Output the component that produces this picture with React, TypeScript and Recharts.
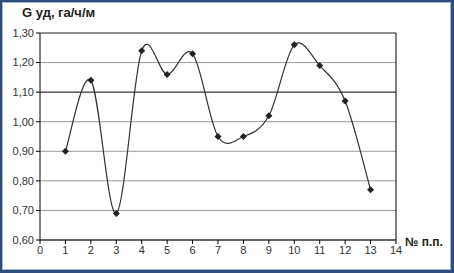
import { LineChart, Line, XAxis, YAxis, CartesianGrid, ReferenceLine } from 'recharts';

const positions = [1, 2, 3, 4, 5, 6, 7, 8, 9, 10, 11, 12, 13];
const gValues = [0.9, 1.14, 0.69, 1.24, 1.16, 1.23, 0.95, 0.95, 1.02, 1.26, 1.19, 1.07, 0.77];
const xTicks = [0, 1, 2, 3, 4, 5, 6, 7, 8, 9, 10, 11, 12, 13, 14];
const yTicks = [0.6, 0.7, 0.8, 0.9, 1.0, 1.1, 1.2, 1.3];

const data = positions.map((n, i) => ({ n, g: gValues[i] }));

// Excel-like smoothed line (Catmull-Rom through the points)
const smooth = (context: any) => {
  let pts: [number, number][] = [];
  return {
    areaStart() {},
    areaEnd() {},
    lineStart() {
      pts = [];
    },
    point(x: number, y: number) {
      pts.push([+x, +y]);
    },
    lineEnd() {
      if (!pts.length) return;
      context.moveTo(pts[0][0], pts[0][1]);
      for (let i = 0; i < pts.length - 1; i++) {
        const p0 = pts[i - 1] || pts[i];
        const p1 = pts[i];
        const p2 = pts[i + 1];
        const p3 = pts[i + 2] || p2;
        context.bezierCurveTo(
          p1[0] + (p2[0] - p0[0]) / 6,
          p1[1] + (p2[1] - p0[1]) / 6,
          p2[0] - (p3[0] - p1[0]) / 6,
          p2[1] - (p3[1] - p1[1]) / 6,
          p2[0],
          p2[1]
        );
      }
    },
  };
};

const Diamond = (props: any) => {
  const { cx, cy, index } = props;
  const r = 3.5;
  return (
    <path
      key={`d${index}`}
      d={`M${cx},${cy - r}L${cx + r},${cy}L${cx},${cy + r}L${cx - r},${cy}Z`}
      fill="#222"
    />
  );
};

const fmt = (v: number) => v.toFixed(2).replace('.', ',');
const font = 'Arial, "Liberation Sans", sans-serif';

export default function App() {
  return (
    <div
      style={{
        position: 'absolute',
        left: 0,
        top: 0,
        width: 454,
        height: 273,
        boxSizing: 'border-box',
        borderStyle: 'solid',
        borderColor: '#2e4f7e',
        borderWidth: '2px 3px 3px 2px',
        boxShadow: 'inset 0 0 0 1px #9fb6d6',
        background: '#fff',
        fontFamily: font,
      }}
    >
      <div
        style={{
          position: 'absolute',
          left: 20,
          top: 3,
          fontSize: 13,
          fontWeight: 'bold',
          color: '#222',
        }}
      >
        G уд, га/ч/м
      </div>
      <div
        style={{
          position: 'absolute',
          left: 403,
          top: 233,
          fontSize: 12,
          fontWeight: 'bold',
          color: '#222',
        }}
      >
        № п.п.
      </div>
      <div style={{ position: 'absolute', left: -2, top: -2 }}>
        <LineChart width={454} height={273} data={data} margin={{ top: 33, right: 58, bottom: 8, left: 0 }}>
          <CartesianGrid vertical={false} stroke="#999" />
          <XAxis
            dataKey="n"
            type="number"
            domain={[0, 14]}
            ticks={xTicks}
            interval={0}
            height={25}
            stroke="#000"
            tickSize={4}
            tick={{ fontSize: 11, fill: '#333', fontFamily: font }}
          />
          <YAxis
            type="number"
            domain={[0.6, 1.3]}
            ticks={yTicks}
            interval={0}
            width={40}
            stroke="#000"
            tickSize={4}
            tickFormatter={fmt}
            tick={{ fontSize: 11, fill: '#333', fontFamily: font }}
          />
          <ReferenceLine y={1.3} stroke="#555" />
          <ReferenceLine y={1.1} stroke="#333" />
          <ReferenceLine x={14} stroke="#000" />
          <Line
            dataKey="g"
            type={smooth as any}
            stroke="#333"
            strokeWidth={1.2}
            dot={Diamond}
            activeDot={false}
            isAnimationActive={false}
          />
        </LineChart>
      </div>
    </div>
  );
}
